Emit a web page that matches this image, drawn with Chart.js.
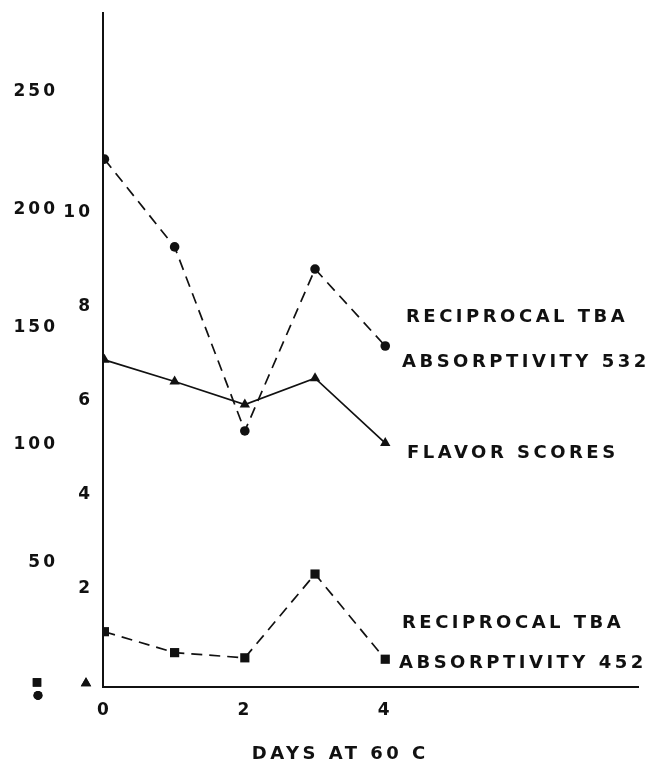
<!DOCTYPE html>
<html>
<head>
<meta charset="utf-8">
<script src="https://cdn.jsdelivr.net/npm/chart.js@4/dist/chart.umd.min.js"></script>
<style>
  html, body { margin: 0; background: #fff; }
  #wrap { width: 649px; height: 765px; }
</style>
</head>
<body>
<div id="wrap"><canvas id="c" width="649" height="765"></canvas></div>
<script>
// TBA reciprocal absorptivity (532 / 452) and flavor scores vs. days at 60 C.
const days = [0, 1, 2, 3, 4];
const tba532 = [221.5, 184.2, 106, 174.8, 142.1];
const flavor = [6.86, 6.40, 5.91, 6.47, 5.09];
const tba452 = [20.7, 11.8, 9.6, 45.2, 9.0];

const dayTicks = [0, 2, 4];
const tbaTicks = [50, 100, 150, 200, 250];
const flavorTicks = [2, 4, 6, 8, 10];

const FONT = "'DejaVu Sans', sans-serif";
const INK = "#111";

const pts = (ys) => days.map((d, i) => ({ x: d, y: ys[i] }));
const fixTicks = (list) => (s) => { s.ticks = list.map((v) => ({ value: v })); };
const noPad = (extra) => (s) => {
  s.paddingTop = s.paddingBottom = s.paddingLeft = s.paddingRight = 0;
  extra(s);
};

// Right-hand series captions, drawn as plain text.
const captions = [
  { text: "RECIPROCAL TBA", x: 406, y: 317 },
  { text: "ABSORPTIVITY 532", x: 402, y: 362 },
  { text: "FLAVOR SCORES", x: 407, y: 453 },
  { text: "RECIPROCAL TBA", x: 402, y: 623 },
  { text: "ABSORPTIVITY 452", x: 399, y: 663 },
];

const textPlugin = {
  id: "textPlugin",
  beforeDraw(chart) {
    chart.ctx.letterSpacing = "3px";
  },
  afterDraw(chart) {
    const ctx = chart.ctx;
    const { x, yR, yF } = chart.scales;
    ctx.save();
    ctx.fillStyle = INK;
    ctx.letterSpacing = "3.5px";
    ctx.font = `bold 18px ${FONT}`;
    ctx.textBaseline = "middle";
    ctx.textAlign = "left";
    captions.forEach((c) => ctx.fillText(c.text, c.x, c.y));
    ctx.textAlign = "center";
    ctx.fillText("DAYS AT 60 C", x.getPixelForValue(3.36), 754);

    // zero markers for each left scale
    const z = yR.getPixelForValue(0);
    Chart.helpers.drawPoint(ctx, { pointStyle: "rect", radius: 6, rotation: 0, borderWidth: 0 }, 37, z + 2);
    ctx.fill();
    Chart.helpers.drawPoint(ctx, { pointStyle: "circle", radius: 4.5, rotation: 0, borderWidth: 0 }, 38, z + 15);
    ctx.fill();
    Chart.helpers.drawPoint(ctx, { pointStyle: "triangle", radius: 6, rotation: 0, borderWidth: 0 }, 86, yF.getPixelForValue(0) + 1);
    ctx.fill();
    ctx.restore();
  },
};

const line = (data, axis, style, radius, dash) => ({
  data: pts(data),
  yAxisID: axis,
  borderColor: INK,
  backgroundColor: INK,
  borderWidth: 1.7,
  borderDash: dash,
  pointStyle: style,
  pointRadius: radius,
  pointBorderWidth: 0,
  pointBackgroundColor: INK,
  tension: 0,
});

const tickFont = { family: FONT, size: 17, weight: "bold" };

new Chart(document.getElementById("c"), {
  type: "line",
  data: {
    datasets: [
      line(tba532, "yR", "circle", 4.8, [11, 7]),
      line(flavor, "yF", "triangle", 6, []),
      line(tba452, "yR", "rect", 6.5, [11, 7]),
    ],
  },
  options: {
    responsive: false,
    devicePixelRatio: 1,
    animation: false,
    layout: { padding: { top: 13, right: 11, left: 0, bottom: 0 } },
    plugins: { legend: { display: false }, tooltip: { enabled: false } },
    scales: {
      x: {
        type: "linear",
        min: -0.02,
        max: 7.6,
        afterBuildTicks: fixTicks(dayTicks),
        afterFit: noPad((s) => { s.height = 78; }),
        grid: { display: false, drawTicks: false },
        border: { display: true, color: INK, width: 2 },
        ticks: { color: INK, font: tickFont, padding: 13 },
      },
      yF: {
        position: "left",
        weight: 1,
        min: -0.1,
        max: 14.24,
        afterBuildTicks: fixTicks(flavorTicks),
        afterFit: noPad((s) => { s.width = 45; }),
        grid: { display: false, drawTicks: false },
        border: { display: true, color: INK, width: 2 },
        ticks: { color: INK, font: tickFont, padding: 10 },
      },
      yR: {
        position: "left",
        weight: 2,
        min: -2.8,
        max: 283.6,
        afterBuildTicks: fixTicks(tbaTicks),
        afterFit: noPad((s) => { s.width = 58; }),
        grid: { display: false, drawTicks: false },
        border: { display: false },
        ticks: { color: INK, font: tickFont, padding: 0 },
      },
    },
  },
  plugins: [textPlugin],
});
</script>
</body>
</html>
